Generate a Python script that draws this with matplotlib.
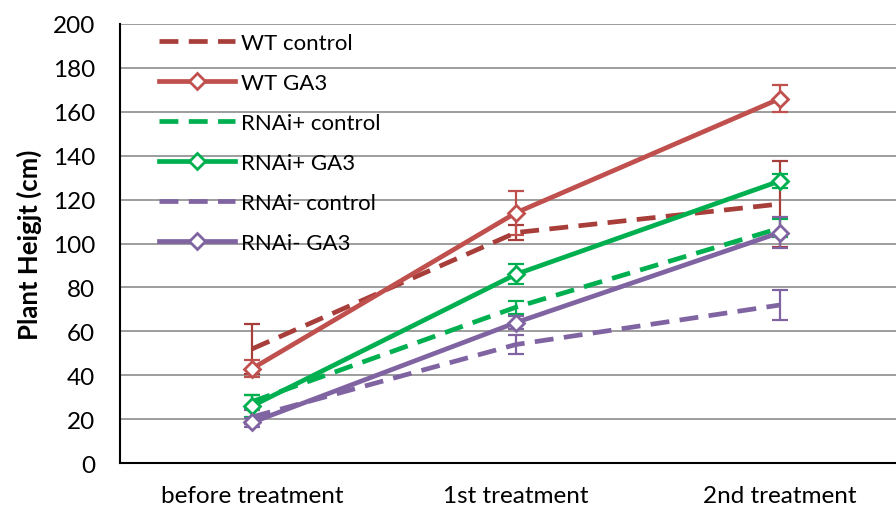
import matplotlib
matplotlib.use('Agg')
import matplotlib.pyplot as plt
import numpy as np

plt.rcParams['font.family'] = ['Lato', 'DejaVu Sans']

etapas = ['before treatment', '1st treatment', '2nd treatment']

series = ['WT control', 'WT GA3', 'RNAi+ control', 'RNAi+ GA3', 'RNAi- control', 'RNAi- GA3']
valores = [
    [52, 105, 118],
    [43, 114, 166],
    [28, 71, 107],
    [26, 86, 128.5],
    [21, 54, 72],
    [18.5, 64, 105],
]
errores = [
    [11.5, 3.5, 19.5],
    [4, 10, 6],
    [3, 3, 4],
    [5, 4.5, 3],
    [3, 4.5, 7],
    [2, 3, 7],
]
colores = ['#A83E3A', '#C0504D', '#00B050', '#00B050', '#8064A2', '#8064A2']
punteada = [True, False, True, False, True, False]

fig = plt.figure(figsize=(8.96, 5.10), dpi=100)
ax = fig.add_axes([0.134, 0.090, 0.866, 0.861])

x = np.arange(len(etapas))
for nombre, v, e, c, dash in zip(series, valores, errores, colores, punteada):
    ax.errorbar(x, v, yerr=e, fmt='none', ecolor=c, elinewidth=1.6,
                capsize=6, capthick=1.6, zorder=3)
    if dash:
        ax.plot(x, v, color=c, lw=3.4, linestyle=(0, (4, 2.2)),
                label=nombre, zorder=4)
    else:
        ax.plot(x, v, color=c, lw=3.4, marker='D', markersize=8,
                markerfacecolor='white', markeredgecolor=c,
                markeredgewidth=2, label=nombre, zorder=5)

ax.set_xlim(-0.5, 2.44)
ax.set_ylim(0, 200)
ax.set_yticks(range(0, 201, 20))
ax.set_xticks(x)
ax.set_xticklabels(etapas, fontsize=17.5)
ax.tick_params(axis='y', labelsize=17.5, length=0, pad=18)
ax.tick_params(axis='x', length=0, pad=16)
ax.yaxis.grid(True, color='#8C8C8C', lw=1.2)
ax.set_axisbelow(True)
for s in ['top', 'right']:
    ax.spines[s].set_visible(False)
for s in ['left', 'bottom']:
    ax.spines[s].set_linewidth(1.5)
    ax.spines[s].set_color('black')

ax.set_ylabel('Plant Heigjt (cm)', fontsize=18.5, fontweight='bold', labelpad=8)

leg = ax.legend(loc='upper left', bbox_to_anchor=(0.025, 1.025), frameon=False,
                fontsize=16, handlelength=3.4, labelspacing=0.9,
                handletextpad=0.25)

fig.savefig('out.png', dpi=100)
